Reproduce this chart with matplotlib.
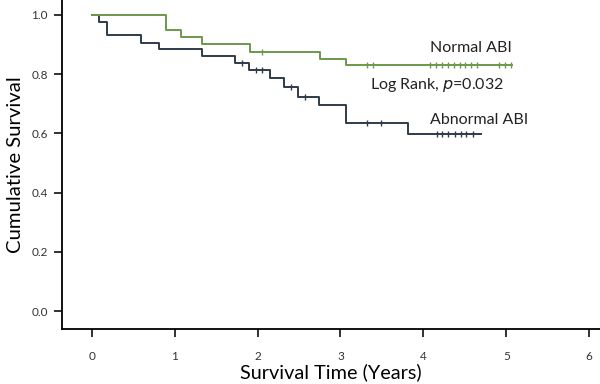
import numpy as np
import matplotlib
matplotlib.use("Agg")
import matplotlib.pyplot as plt

plt.rcParams['font.family'] = ['Lato', 'DejaVu Sans']

# Kaplan-Meier step data (time in years, survival)
normal_t = [0.0, 0.90, 1.08, 1.33, 1.91, 2.75, 3.07, 5.07]
normal_s = [1.0, 0.950, 0.926, 0.903, 0.876, 0.850, 0.829, 0.829]
normal_cens = [2.06, 3.32, 3.39, 4.08, 4.15, 4.22, 4.30, 4.37, 4.44, 4.50,
               4.58, 4.65, 4.91, 4.98, 5.06]

abn_t = [0.0, 0.09, 0.19, 0.60, 0.81, 1.33, 1.73, 1.90, 2.15, 2.32, 2.49,
         2.74, 3.07, 3.81, 4.69]
abn_s = [1.0, 0.977, 0.932, 0.904, 0.883, 0.861, 0.839, 0.813, 0.785, 0.757,
         0.724, 0.695, 0.634, 0.598, 0.598]
abn_cens = [1.81, 1.98, 2.06, 2.40, 2.57, 3.32, 3.49, 4.16, 4.23, 4.30, 4.38,
            4.45, 4.52, 4.60]

green = '#6a9a4a'
navy = '#2f3b4a'

def surv_at(t, times, surv):
    idx = np.searchsorted(times, t, side='right') - 1
    return np.array(surv)[idx]

fig = plt.figure(figsize=(6, 3.84), dpi=100)
ax = fig.add_axes([0.103, 0.143, 0.897, 0.857])

ax.step(abn_t, abn_s, where='post', color=navy, lw=1.4)
ax.plot(abn_cens, surv_at(abn_cens, abn_t, abn_s), ls='none', marker='|',
        ms=5, mew=1.0, color=navy)
ax.step(normal_t, normal_s, where='post', color=green, lw=1.4)
ax.plot(normal_cens, surv_at(normal_cens, normal_t, normal_s), ls='none',
        marker='|', ms=5, mew=1.0, color=green)

ax.text(4.08, 0.889, 'Normal ABI', fontsize=11.5, va='center', ha='left', color='#222222')
ax.text(3.36, 0.764, 'Log Rank, $\\it{p}$=0.032', fontsize=11.5, va='center', ha='left', color='#222222')
ax.text(4.08, 0.645, 'Abnormal ABI', fontsize=11.5, va='center', ha='left', color='#222222')

ax.set_xlim(-0.36, 6.13)
ax.set_ylim(-0.061, 1.05)
ax.set_xticks(range(7))
ax.set_yticks([0.0, 0.2, 0.4, 0.6, 0.8, 1.0])
ax.set_yticklabels(['0.0', '0.2', '0.4', '0.6', '0.8', '1.0'])
ax.tick_params(direction='out', length=6, width=1.3, labelsize=8.5, colors='#222222',
               labelcolor='#333333', pad=4)
ax.tick_params(axis='x', pad=10)

for side in ['top', 'right']:
    ax.spines[side].set_visible(False)
for side in ['left', 'bottom']:
    ax.spines[side].set_linewidth(1.3)

ax.set_xlabel('Survival Time (Years)', fontsize=14.3, labelpad=1)
ax.set_ylabel('Cumulative Survival', fontsize=14.6, labelpad=5)

fig.savefig('out.png', dpi=100)
